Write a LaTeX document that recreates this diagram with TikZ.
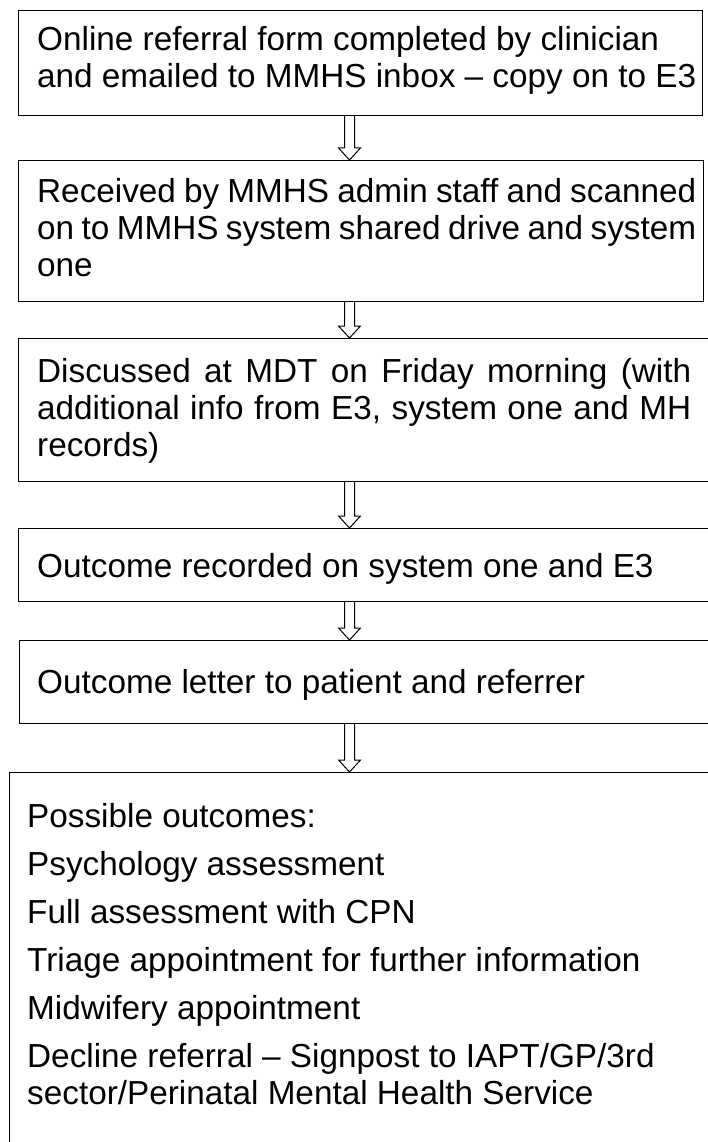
\documentclass[tikz,border=0pt]{standalone}
\usepackage{fontspec}
\setmainfont{Liberation Sans}
\usetikzlibrary{calc}
\newcommand\hollowdown[2]{%
  \draw[harrow] let \p1=(#1.south -| ax), \p2=(#2.north -| ax) in
    (\x1-5pt,\y1) -- (\x1-5pt,\y2+12pt) -- (\x1-11pt,\y2+12pt) -- (\x1,\y2)
    -- (\x1+11pt,\y2+12pt) -- (\x1+5pt,\y2+12pt) -- (\x1+5pt,\y1);}
\begin{document}
\begin{tikzpicture}[x=1pt,y=-1pt,
  box/.style={draw, line width=1.2pt, rectangle, inner sep=0pt, anchor=north west},
  txt/.style={anchor=north west, inner sep=0pt, text width=#1, align=justify,
    font=\fontsize{33.3}{37}\selectfont},
  ltxt/.style={anchor=north west, inner sep=0pt, align=left,
    font=\fontsize{33.3}{37}\selectfont},
  harrow/.style={draw, line width=1pt, line join=miter}]
\useasboundingbox (0,0) rectangle (708,1142);
\clip (0,0) rectangle (708,1142);
\coordinate (ax) at (349.5,0);
% boxes
\node[box, minimum width=684pt, minimum height=105pt] (b1) at (18,10) {};
\node[box, minimum width=685pt, minimum height=141pt] (b2) at (18,160) {};
\node[box, minimum width=720pt, minimum height=143pt] (b3) at (18,338) {};
\node[box, minimum width=720pt, minimum height=73pt] (b4) at (18,528) {};
\node[box, minimum width=720pt, minimum height=83pt] (b5) at (19,640) {};
\node[box, minimum width=730pt, minimum height=420pt] (b6) at (9,772) {};
% texts
\node[ltxt] (t1) at (37,24) {\strut Online referral form completed by clinician\\ and emailed to MMHS inbox – copy on to E3};
\node[txt=659pt] (t2) at (37,176) {\strut Received by MMHS admin staff and scanned\linebreak on to MMHS system shared drive and system\linebreak one};
\node[txt=654pt] (t3) at (37,356) {\strut Discussed at MDT on Friday morning (with\linebreak additional info from E3, system one and MH\linebreak records)};
\node[ltxt] (t4) at (37,551) {\strut Outcome recorded on system one and E3};
\node[ltxt] (t5) at (37,667) {\strut Outcome letter to patient and referrer};
\node[ltxt] (t6) at (27,801) {\strut Possible outcomes:\\[11pt]
Psychology assessment\\[11pt]
Full assessment with CPN\\[11pt]
Triage appointment for further information\\[11pt]
Midwifery appointment\\[11pt]
Decline referral – Signpost to IAPT/GP/3rd\\
sector/Perinatal Mental Health Service};
% arrows
\hollowdown{b1}{b2}
\hollowdown{b2}{b3}
\hollowdown{b3}{b4}
\hollowdown{b4}{b5}
\hollowdown{b5}{b6}
\end{tikzpicture}
\end{document}
